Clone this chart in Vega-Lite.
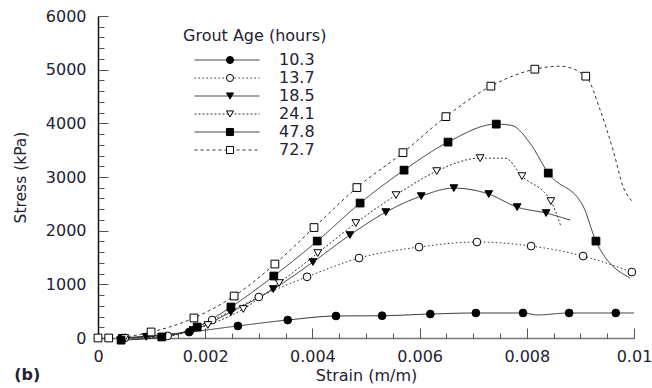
{
  "$schema": "https://vega.github.io/schema/vega-lite/v6.json",
  "width": 536,
  "height": 322,
  "autosize": {"type": "none"},
  "padding": {"left": 98, "top": 16, "right": 18, "bottom": 50},
  "background": "white",
  "title": {"text": "(b)", "orient": "bottom", "anchor": "start", "frame": "bounds", "fontSize": 16, "fontWeight": "bold", "font": "DejaVu Sans", "color": "#222233", "offset": 0, "dy": -16, "dx": 1},
  "config": {
    "view": {"stroke": null},
    "font": "DejaVu Sans",
    "axis": {"labelFont": "DejaVu Sans", "titleFont": "DejaVu Sans", "labelFontSize": 16, "titleFontSize": 16, "labelColor": "#222233", "titleColor": "#222233", "titleFontWeight": "normal", "grid": false, "domainColor": "#222", "tickColor": "#555"},
    "legend": {"labelFont": "DejaVu Sans", "titleFont": "DejaVu Sans"}
  },
  "data": {"values": [
    {"age": "10.3", "strain": 0.00045, "stress": 0, "m": 1},
    {"age": "10.3", "strain": 0.0017, "stress": 110, "m": 1},
    {"age": "10.3", "strain": 0.00261, "stress": 225, "m": 1},
    {"age": "10.3", "strain": 0.00354, "stress": 335, "m": 1},
    {"age": "10.3", "strain": 0.00444, "stress": 410, "m": 1},
    {"age": "10.3", "strain": 0.0053, "stress": 415, "m": 1},
    {"age": "10.3", "strain": 0.0062, "stress": 447, "m": 1},
    {"age": "10.3", "strain": 0.00705, "stress": 466, "m": 1},
    {"age": "10.3", "strain": 0.00793, "stress": 466, "m": 1},
    {"age": "10.3", "strain": 0.0082, "stress": 430, "m": 0},
    {"age": "10.3", "strain": 0.00879, "stress": 466, "m": 1},
    {"age": "10.3", "strain": 0.00966, "stress": 466, "m": 1},
    {"age": "10.3", "strain": 0.01, "stress": 466, "m": 0},
    {"age": "13.7", "strain": 0.0005, "stress": 0, "m": 1},
    {"age": "13.7", "strain": 0.0013, "stress": 40, "m": 1},
    {"age": "13.7", "strain": 0.00213, "stress": 335, "m": 1},
    {"age": "13.7", "strain": 0.003, "stress": 764, "m": 1},
    {"age": "13.7", "strain": 0.0039, "stress": 1140, "m": 1},
    {"age": "13.7", "strain": 0.00487, "stress": 1490, "m": 1},
    {"age": "13.7", "strain": 0.00599, "stress": 1695, "m": 1},
    {"age": "13.7", "strain": 0.00707, "stress": 1788, "m": 1},
    {"age": "13.7", "strain": 0.00808, "stress": 1713, "m": 1},
    {"age": "13.7", "strain": 0.00905, "stress": 1527, "m": 1},
    {"age": "13.7", "strain": 0.00996, "stress": 1229, "m": 1},
    {"age": "18.5", "strain": 0.00045, "stress": 0, "m": 1},
    {"age": "18.5", "strain": 0.0009, "stress": 20, "m": 1},
    {"age": "18.5", "strain": 0.00177, "stress": 149, "m": 1},
    {"age": "18.5", "strain": 0.00248, "stress": 484, "m": 1},
    {"age": "18.5", "strain": 0.00327, "stress": 912, "m": 1},
    {"age": "18.5", "strain": 0.00401, "stress": 1415, "m": 1},
    {"age": "18.5", "strain": 0.0047, "stress": 1918, "m": 1},
    {"age": "18.5", "strain": 0.00537, "stress": 2346, "m": 1},
    {"age": "18.5", "strain": 0.00603, "stress": 2644, "m": 1},
    {"age": "18.5", "strain": 0.00664, "stress": 2793, "m": 1},
    {"age": "18.5", "strain": 0.00729, "stress": 2682, "m": 1},
    {"age": "18.5", "strain": 0.00782, "stress": 2439, "m": 1},
    {"age": "18.5", "strain": 0.00836, "stress": 2328, "m": 1},
    {"age": "18.5", "strain": 0.00881, "stress": 2197, "m": 0},
    {"age": "24.1", "strain": 0.0005, "stress": 0, "m": 1},
    {"age": "24.1", "strain": 0.0012, "stress": 20, "m": 1},
    {"age": "24.1", "strain": 0.00205, "stress": 242, "m": 1},
    {"age": "24.1", "strain": 0.00271, "stress": 540, "m": 1},
    {"age": "24.1", "strain": 0.00338, "stress": 1024, "m": 1},
    {"age": "24.1", "strain": 0.0041, "stress": 1583, "m": 1},
    {"age": "24.1", "strain": 0.00481, "stress": 2142, "m": 1},
    {"age": "24.1", "strain": 0.00556, "stress": 2663, "m": 1},
    {"age": "24.1", "strain": 0.00632, "stress": 3110, "m": 1},
    {"age": "24.1", "strain": 0.00713, "stress": 3352, "m": 1},
    {"age": "24.1", "strain": 0.0076, "stress": 3350, "m": 0},
    {"age": "24.1", "strain": 0.00791, "stress": 3017, "m": 1},
    {"age": "24.1", "strain": 0.00845, "stress": 2551, "m": 1},
    {"age": "24.1", "strain": 0.00864, "stress": 2067, "m": 0},
    {"age": "47.8", "strain": 0.00043, "stress": -40, "m": 1},
    {"age": "47.8", "strain": 0.00119, "stress": 19, "m": 1},
    {"age": "47.8", "strain": 0.00185, "stress": 205, "m": 1},
    {"age": "47.8", "strain": 0.00248, "stress": 577, "m": 1},
    {"age": "47.8", "strain": 0.00328, "stress": 1155, "m": 1},
    {"age": "47.8", "strain": 0.00409, "stress": 1806, "m": 1},
    {"age": "47.8", "strain": 0.00489, "stress": 2514, "m": 1},
    {"age": "47.8", "strain": 0.00571, "stress": 3128, "m": 1},
    {"age": "47.8", "strain": 0.00653, "stress": 3650, "m": 1},
    {"age": "47.8", "strain": 0.00743, "stress": 3985, "m": 1},
    {"age": "47.8", "strain": 0.00772, "stress": 3960, "m": 0},
    {"age": "47.8", "strain": 0.00806, "stress": 3630, "m": 0},
    {"age": "47.8", "strain": 0.0084, "stress": 3073, "m": 1},
    {"age": "47.8", "strain": 0.00905, "stress": 2458, "m": 0},
    {"age": "47.8", "strain": 0.00929, "stress": 1806, "m": 1},
    {"age": "47.8", "strain": 0.00993, "stress": 1117, "m": 0},
    {"age": "72.7", "strain": 0, "stress": 0, "m": 1},
    {"age": "72.7", "strain": 0.0002, "stress": 0, "m": 1},
    {"age": "72.7", "strain": 0.00099, "stress": 112, "m": 1},
    {"age": "72.7", "strain": 0.00179, "stress": 373, "m": 1},
    {"age": "72.7", "strain": 0.00254, "stress": 782, "m": 1},
    {"age": "72.7", "strain": 0.0033, "stress": 1378, "m": 1},
    {"age": "72.7", "strain": 0.00403, "stress": 2058, "m": 1},
    {"age": "72.7", "strain": 0.00483, "stress": 2803, "m": 1},
    {"age": "72.7", "strain": 0.00569, "stress": 3454, "m": 1},
    {"age": "72.7", "strain": 0.00649, "stress": 4125, "m": 1},
    {"age": "72.7", "strain": 0.00733, "stress": 4693, "m": 1},
    {"age": "72.7", "strain": 0.00815, "stress": 5009, "m": 1},
    {"age": "72.7", "strain": 0.00862, "stress": 5065, "m": 0},
    {"age": "72.7", "strain": 0.0091, "stress": 4879, "m": 1},
    {"age": "72.7", "strain": 0.00937, "stress": 4246, "m": 0},
    {"age": "72.7", "strain": 0.00961, "stress": 3501, "m": 0},
    {"age": "72.7", "strain": 0.0098, "stress": 2812, "m": 0},
    {"age": "72.7", "strain": 0.00998, "stress": 2533, "m": 0}
  ]},
  "resolve": {"axis": {"x": "independent", "y": "independent"}},
  "layer": [
    {
      "mark": {"type": "line", "interpolate": "monotone", "stroke": "#333", "strokeWidth": 1},
      "encoding": {
        "x": {"field": "strain", "type": "quantitative", "scale": {"domain": [0, 0.01], "nice": false, "zero": false},
              "axis": {"orient": "bottom", "title": "Strain (m/m)", "values": [0, 0.002, 0.004, 0.006, 0.008, 0.01], "format": "~g", "tickSize": -10, "labelPadding": 20, "titlePadding": 3, "domainColor": "#777", "domainWidth": 1.5, "labelFlush": false}},
        "y": {"field": "stress", "type": "quantitative", "scale": {"domain": [0, 6000], "nice": false, "zero": false},
              "axis": {"orient": "left", "title": "Stress (kPa)", "values": [0, 1000, 2000, 3000, 4000, 5000, 6000], "format": "d", "tickSize": -10, "labelPadding": 22, "titlePadding": 17, "titleFontSize": 15.5, "domainColor": "#111", "domainWidth": 1.5, "labelFlush": false}},
        "strokeDash": {"field": "age", "type": "nominal",
          "scale": {"range": [[1, 0], [1.5, 2.5], [1, 0], [2, 2], [1, 0], [3, 3]]},
          "legend": {"orient": "none", "legendX": 85, "legendY": 12, "title": "Grout Age (hours)", "titleFontSize": 16, "titleFontWeight": "normal", "titleColor": "#222233", "titlePadding": 8, "labelFontSize": 16, "labelColor": "#222233", "symbolType": "M-1,0L1,0", "symbolSize": 4225, "symbolStrokeWidth": 1, "symbolStrokeColor": "#333", "symbolOffset": 11, "clipHeight": 16, "rowPadding": 2, "labelOffset": 19}}
      }
    },
    {
      "transform": [{"filter": "datum.m == 1"}],
      "mark": {"type": "point", "filled": true, "strokeWidth": 1, "size": 60, "opacity": 1},
      "encoding": {
        "x": {"field": "strain", "type": "quantitative", "axis": {"orient": "bottom", "tickCount": 20, "labels": false, "domain": false, "title": null, "tickSize": -5}},
        "y": {"field": "stress", "type": "quantitative", "axis": {"orient": "left", "tickCount": 30, "labels": false, "domain": false, "title": null, "tickSize": -6}},
        "shape": {"field": "age", "type": "nominal",
          "scale": {"domain": ["10.3", "13.7", "18.5", "24.1", "47.8", "72.7"], "range": ["circle", "circle", "triangle-down", "triangle-down", "square", "square"]},
          "legend": {"orient": "none", "legendX": 124, "legendY": 36, "title": null, "labelFontSize": 16, "labelColor": "transparent", "symbolSize": 50, "symbolStrokeWidth": 1, "clipHeight": 16, "rowPadding": 2}},
        "fill": {"field": "age", "type": "nominal",
          "scale": {"domain": ["10.3", "13.7", "18.5", "24.1", "47.8", "72.7"], "range": ["black", "white", "black", "white", "black", "white"]},
          "legend": {"orient": "none", "legendX": 124, "legendY": 36, "title": null, "labelFontSize": 16, "labelColor": "transparent", "symbolSize": 50, "symbolStrokeWidth": 1, "clipHeight": 16, "rowPadding": 2}},
        "stroke": {"field": "age", "type": "nominal",
          "scale": {"domain": ["10.3", "13.7", "18.5", "24.1", "47.8", "72.7"], "range": ["black", "black", "black", "black", "black", "black"]},
          "legend": {"orient": "none", "legendX": 124, "legendY": 36, "title": null, "labelFontSize": 16, "labelColor": "transparent", "symbolSize": 50, "symbolStrokeWidth": 1, "clipHeight": 16, "rowPadding": 2}}
      }
    }
  ]
}
